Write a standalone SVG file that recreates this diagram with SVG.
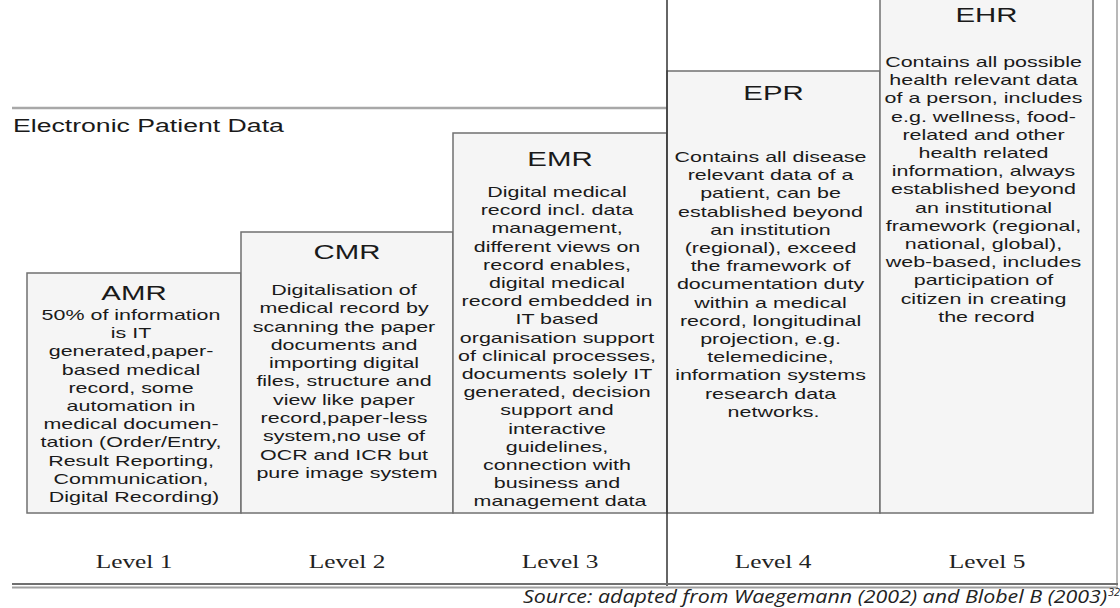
<svg xmlns="http://www.w3.org/2000/svg" width="1120" height="608" viewBox="0 0 1120 608">
<style>
.box{fill:#f5f5f5;stroke:#707070;stroke-width:1.5}
.t{font-family:"Liberation Sans",Arial,sans-serif;fill:#1a1a1a;text-anchor:middle}
.title{font-size:20px}
.body{font-size:14.6px}
.lvl{font-family:"Liberation Serif","Times New Roman",serif;font-size:18.5px;fill:#222;text-anchor:middle}
</style>
<rect width="1120" height="608" fill="#ffffff"/>
<g id="lines">
  <line x1="12" y1="108" x2="667" y2="108" stroke="#a8a8a8" stroke-width="2.5"/>
  <line x1="1117" y1="0" x2="1117" y2="586" stroke="#b8b8b8" stroke-width="2"/>
</g>
<g id="epd">
  <text class="t" style="text-anchor:start;font-size:18.5px" transform="translate(13,132) scale(1.44,1)" x="0" y="0">Electronic Patient Data</text>
</g>
<g id="amr">
  <rect class="box" x="27" y="273" width="214" height="240"/>
  <g transform="translate(134,0) scale(1.47,1)">
    <text class="t title" x="0" y="300">AMR</text>
    <text class="t body" x="0" y="320">
      <tspan x="0">50% of information</tspan>
      <tspan x="0" dy="18.2">is IT</tspan>
      <tspan x="0" dy="18.2">generated,paper-</tspan>
      <tspan x="0" dy="18.2">based medical</tspan>
      <tspan x="0" dy="18.2">record, some</tspan>
      <tspan x="0" dy="18.2">automation in</tspan>
      <tspan x="0" dy="18.2">medical documen-</tspan>
      <tspan x="0" dy="18.2">tation (Order/Entry,</tspan>
      <tspan x="0" dy="18.2">Result Reporting,</tspan>
      <tspan x="0" dy="18.2">Communication,</tspan>
      <tspan x="0" dy="18.2">Digital Recording)</tspan>
    </text>
  </g>
</g>
<g id="cmr">
  <rect class="box" x="241" y="232" width="212" height="281"/>
  <g transform="translate(347,0) scale(1.47,1)">
    <text class="t title" x="0" y="259">CMR</text>
    <text class="t body" x="0" y="295">
      <tspan x="0">Digitalisation of</tspan>
      <tspan x="0" dy="18.3">medical record by</tspan>
      <tspan x="0" dy="18.3">scanning the paper</tspan>
      <tspan x="0" dy="18.3">documents and</tspan>
      <tspan x="0" dy="18.3">importing digital</tspan>
      <tspan x="0" dy="18.3">files, structure and</tspan>
      <tspan x="0" dy="18.3">view like paper</tspan>
      <tspan x="0" dy="18.3">record,paper-less</tspan>
      <tspan x="0" dy="18.3">system,no use  of</tspan>
      <tspan x="0" dy="18.3">OCR and ICR but</tspan>
      <tspan x="0" dy="18.3">pure image system</tspan>
    </text>
  </g>
</g>
<g id="emr">
  <rect class="box" x="453" y="133" width="214" height="380"/>
  <g transform="translate(560,0) scale(1.47,1)">
    <text class="t title" x="0" y="166">EMR</text>
    <text class="t body" x="0" y="197">
      <tspan x="0">Digital medical</tspan>
      <tspan x="0" dy="18.2">record incl. data</tspan>
      <tspan x="0" dy="18.2">management,</tspan>
      <tspan x="0" dy="18.2">different views on</tspan>
      <tspan x="0" dy="18.2">record enables,</tspan>
      <tspan x="0" dy="18.2">digital medical</tspan>
      <tspan x="0" dy="18.2">record embedded in</tspan>
      <tspan x="0" dy="18.2">IT based</tspan>
      <tspan x="0" dy="18.2">organisation support</tspan>
      <tspan x="0" dy="18.2">of clinical processes,</tspan>
      <tspan x="0" dy="18.2">documents solely IT</tspan>
      <tspan x="0" dy="18.2">generated, decision</tspan>
      <tspan x="0" dy="18.2">support and</tspan>
      <tspan x="0" dy="18.2">interactive</tspan>
      <tspan x="0" dy="18.2">guidelines,</tspan>
      <tspan x="0" dy="18.2">connection with</tspan>
      <tspan x="0" dy="18.2">business and</tspan>
      <tspan x="0" dy="18.2">management data</tspan>
    </text>
  </g>
</g>
<g id="epr">
  <rect class="box" x="667" y="71" width="213" height="442"/>
  <g transform="translate(773.5,0) scale(1.47,1)">
    <text class="t title" x="0" y="100">EPR</text>
    <text class="t body" x="0" y="162">
      <tspan x="0">Contains all disease</tspan>
      <tspan x="0" dy="18.2">relevant data of a</tspan>
      <tspan x="0" dy="18.2">patient, can be</tspan>
      <tspan x="0" dy="18.2">established beyond</tspan>
      <tspan x="0" dy="18.2">an institution</tspan>
      <tspan x="0" dy="18.2">(regional), exceed</tspan>
      <tspan x="0" dy="18.2">the framework of</tspan>
      <tspan x="0" dy="18.2">documentation duty</tspan>
      <tspan x="0" dy="18.2">within a medical</tspan>
      <tspan x="0" dy="18.2">record, longitudinal</tspan>
      <tspan x="0" dy="18.2">projection, e.g.</tspan>
      <tspan x="0" dy="18.2">telemedicine,</tspan>
      <tspan x="0" dy="18.2">information systems</tspan>
      <tspan x="0" dy="18.2">research data</tspan>
      <tspan x="0" dy="18.2">networks.</tspan>
    </text>
  </g>
</g>
<g id="ehr">
  <rect class="box" x="880" y="-5" width="213" height="518"/>
  <g transform="translate(986.5,0) scale(1.47,1)">
    <text class="t title" x="0" y="22">EHR</text>
    <text class="t body" x="0" y="67">
      <tspan x="0">Contains all possible</tspan>
      <tspan x="0" dy="18.2">health relevant data</tspan>
      <tspan x="0" dy="18.2">of a person, includes</tspan>
      <tspan x="0" dy="18.2">e.g. wellness, food-</tspan>
      <tspan x="0" dy="18.2">related and other</tspan>
      <tspan x="0" dy="18.2">health related</tspan>
      <tspan x="0" dy="18.2">information, always</tspan>
      <tspan x="0" dy="18.2">established beyond</tspan>
      <tspan x="0" dy="18.2">an institutional</tspan>
      <tspan x="0" dy="18.2">framework (regional,</tspan>
      <tspan x="0" dy="18.2">national, global),</tspan>
      <tspan x="0" dy="18.2">web-based, includes</tspan>
      <tspan x="0" dy="18.2">participation of</tspan>
      <tspan x="0" dy="18.2">citizen in creating</tspan>
      <tspan x="0" dy="18.2">the record</tspan>
    </text>
  </g>
</g>
<g id="levels">
  <text class="lvl" transform="translate(134,568) scale(1.37,1)">Level 1</text>
  <text class="lvl" transform="translate(347,568) scale(1.37,1)">Level 2</text>
  <text class="lvl" transform="translate(560,568) scale(1.37,1)">Level 3</text>
  <text class="lvl" transform="translate(773,568) scale(1.37,1)">Level 4</text>
  <text class="lvl" transform="translate(987,568) scale(1.37,1)">Level 5</text>
</g>
<g id="rules">
  <line x1="667" y1="0" x2="667" y2="586" stroke="#333333" stroke-width="1.5"/>
  <line x1="12" y1="584" x2="1118" y2="584" stroke="#707070" stroke-width="2.2"/>
  <line x1="12" y1="587.5" x2="1118" y2="587.5" stroke="#a0a0a0" stroke-width="2"/>
</g>
<g id="source">
  <text x="523" y="603" textLength="584" lengthAdjust="spacingAndGlyphs" style="font-family:'Open Sans','DejaVu Sans',sans-serif;font-style:italic;font-size:18px;fill:#222">Source: adapted from Waegemann (2002) and Blobel B (2003)</text>
  <text x="1108" y="596" style="font-family:'Open Sans','DejaVu Sans',sans-serif;font-style:italic;font-size:11px;fill:#222">32</text>
</g>
</svg>
